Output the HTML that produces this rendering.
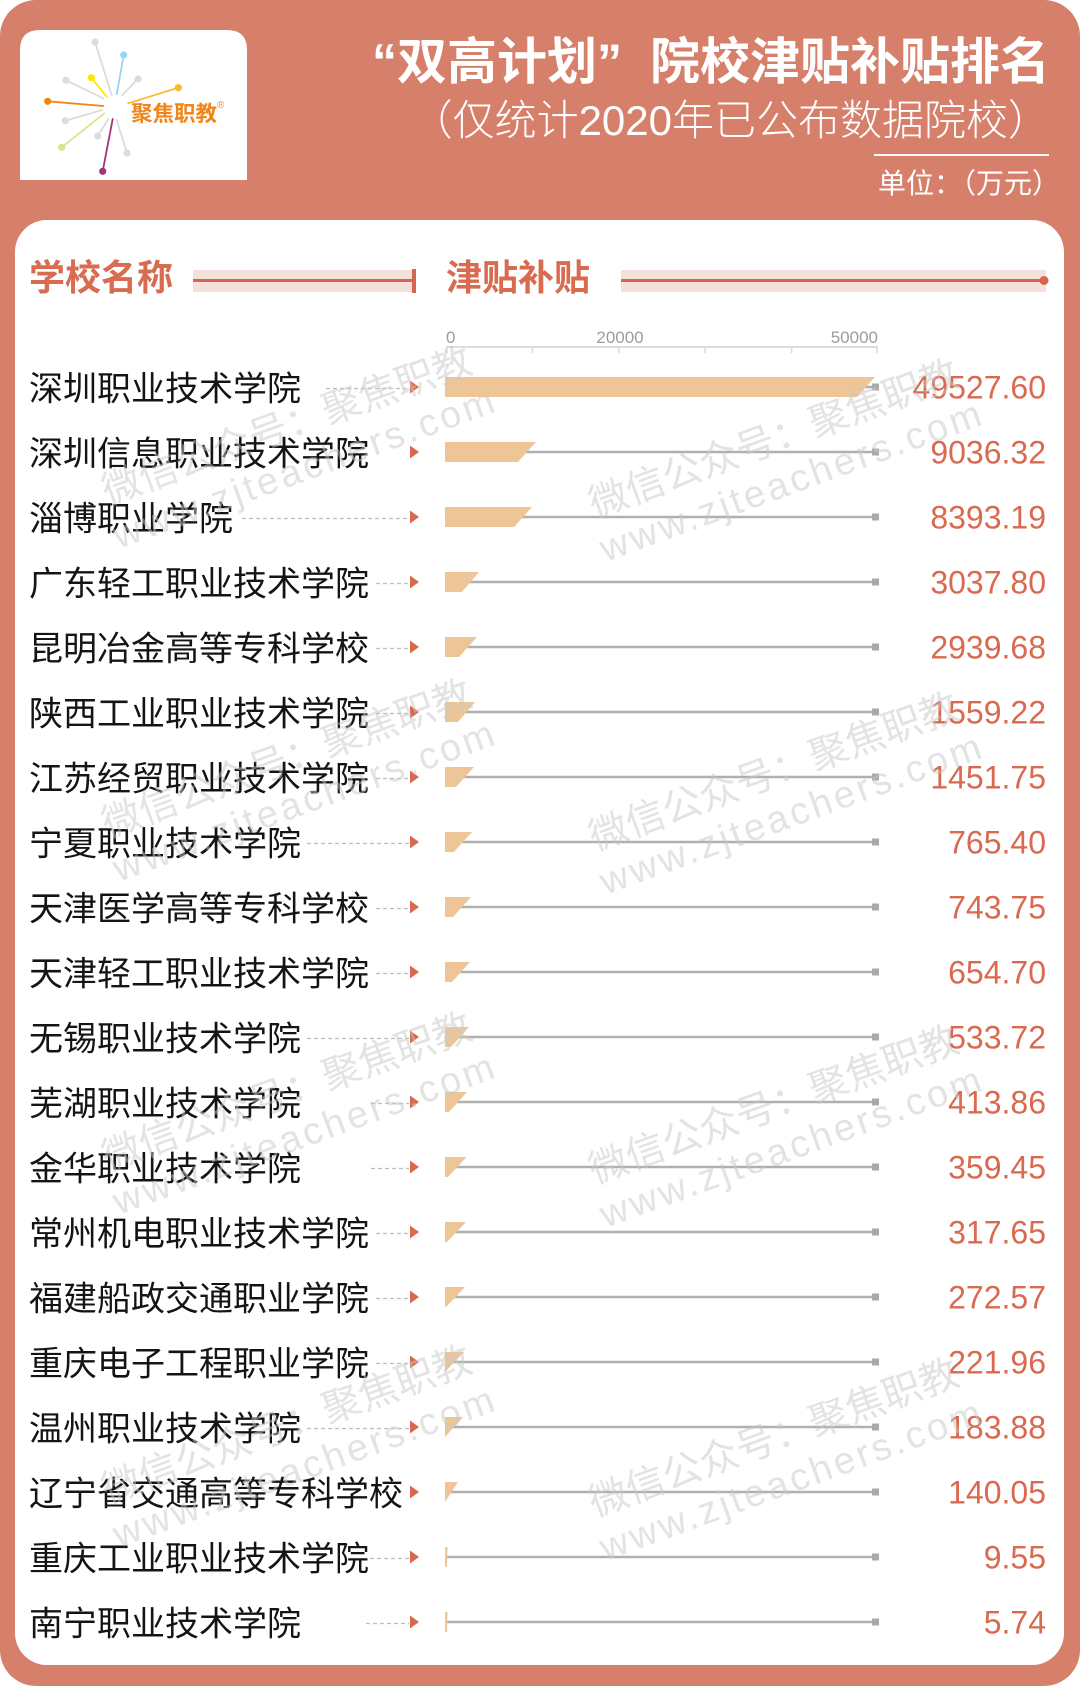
<!DOCTYPE html>
<html>
<head>
<meta charset="utf-8">
<style>
html,body{margin:0;padding:0;background:#fff;}
svg{display:block;}
.n{font-family:"Liberation Sans","Noto Sans CJK SC",sans-serif;font-size:34px;fill:#141414;}
.v{font-family:"Liberation Sans","Noto Sans CJK SC",sans-serif;font-size:32px;fill:#d9694f;text-anchor:end;}
.d{stroke:#bdbdbd;stroke-width:1.2;stroke-dasharray:4 3;}
.g{stroke:#b0b0b0;stroke-width:2.6;}
.b{fill:#eec597;}
.sq{fill:#a9a9a9;}
.t{fill:#d9694e;}
.wm text{fill:rgba(200,200,200,0.5);}
.wm1{font-family:"Liberation Sans","Noto Sans CJK SC",sans-serif;font-size:39px;}
.wm2{font-family:"Liberation Sans","Noto Sans CJK SC",sans-serif;font-size:38px;letter-spacing:3.3px;}
</style>
</head>
<body>
<svg width="1080" height="1686" viewBox="0 0 1080 1686" xmlns="http://www.w3.org/2000/svg">
<rect x="0" y="0" width="1080" height="1686" rx="36" fill="#d6806b"/>

<!-- logo -->
<path d="M20 180 V50 Q20 30 40 30 H227 Q247 30 247 50 V180 Z" fill="#fff"/>
<g stroke-width="1.8" stroke-linecap="round">
<line x1="95" y1="42" x2="111.7" y2="95" stroke="#dcdcdc"/>
<line x1="123.7" y1="55" x2="116.7" y2="94.3" stroke="#9ad6f4"/>
<line x1="138" y1="79" x2="122.3" y2="95" stroke="#dcdcdc"/>
<line x1="91.3" y1="77.7" x2="106.7" y2="96.7" stroke="#ffe800"/>
<line x1="66" y1="80.3" x2="103.3" y2="98.3" stroke="#dcdcdc"/>
<line x1="178.3" y1="87.7" x2="128.3" y2="103.3" stroke="#fbb829"/>
<line x1="47.7" y1="101.3" x2="103.3" y2="106" stroke="#f08519"/>
<line x1="65.3" y1="120.7" x2="102.3" y2="110" stroke="#dcdcdc"/>
<line x1="97.7" y1="136" x2="108.3" y2="119" stroke="#dcdcdc"/>
<line x1="61.7" y1="147.3" x2="104.3" y2="113.3" stroke="#dbe58e"/>
<line x1="127" y1="153" x2="116.7" y2="120" stroke="#dcdcdc"/>
<line x1="102.7" y1="171.3" x2="112.7" y2="119" stroke="#a33478"/>
</g>
<g>
<circle cx="95" cy="42" r="3.6" fill="#dcdcdc"/>
<circle cx="123.7" cy="55" r="3.6" fill="#9ad6f4"/>
<circle cx="138" cy="79" r="3.6" fill="#dcdcdc"/>
<circle cx="91.3" cy="77.7" r="3.6" fill="#ffe800"/>
<circle cx="66" cy="80.3" r="3.6" fill="#dcdcdc"/>
<circle cx="178.3" cy="87.7" r="3.6" fill="#fbb829"/>
<circle cx="47.7" cy="101.3" r="3.6" fill="#f08519"/>
<circle cx="65.3" cy="120.7" r="3.6" fill="#dcdcdc"/>
<circle cx="97.7" cy="136" r="3.6" fill="#dcdcdc"/>
<circle cx="61.7" cy="147.3" r="3.6" fill="#dbe58e"/>
<circle cx="127" cy="153" r="3.6" fill="#dcdcdc"/>
<circle cx="102.7" cy="171.3" r="3.6" fill="#a33478"/>
</g>
<text x="131" y="121" font-size="21.5" font-weight="700" fill="#f08519" style="font-family:'Liberation Sans','Noto Sans CJK SC',sans-serif">聚焦职教</text>
<text x="217" y="108" font-size="10" fill="#f08519" style="font-family:'Liberation Sans',sans-serif">®</text>

<!-- title -->
<text x="1050" y="79" text-anchor="end" font-size="50" font-weight="700" fill="#fff" style="font-family:'Liberation Sans','Noto Sans CJK SC',sans-serif">“双高计划”<tspan dx="28">院校津贴补贴排名</tspan></text>
<text x="1050" y="135" text-anchor="end" font-size="42" font-weight="300" fill="#fff" style="font-family:'Liberation Sans','Noto Sans CJK SC',sans-serif">（仅统计2020年已公布数据院校）</text>
<rect x="874" y="154" width="175" height="2" fill="#fff"/>
<text x="1060" y="193" text-anchor="end" font-size="28" fill="#fff" style="font-family:'Liberation Sans','Noto Sans CJK SC',sans-serif">单位：（万元）</text>

<!-- card -->
<rect x="15" y="220" width="1049" height="1445" rx="32" fill="#fff"/>

<!-- headers -->
<text x="29" y="290" font-size="36" font-weight="700" fill="#d96b51" style="font-family:'Liberation Sans','Noto Sans CJK SC',sans-serif">学校名称</text>
<rect x="193" y="270" width="223" height="22" fill="#f5e0db"/>
<rect x="193" y="279" width="222" height="3" fill="#d4674d"/>
<rect x="412" y="269" width="4" height="24" fill="#d4674d"/>
<text x="446" y="290" font-size="36" font-weight="700" fill="#d96b51" style="font-family:'Liberation Sans','Noto Sans CJK SC',sans-serif">津贴补贴</text>
<rect x="621" y="270" width="425" height="22" fill="#f5e0db"/>
<rect x="621" y="279" width="422" height="3" fill="#d4674d"/>
<circle cx="1044" cy="280.5" r="4.5" fill="#d4674d"/>

<!-- axis -->
<g style="font-family:'Liberation Sans',sans-serif" font-size="17" fill="#9c9c9c">
<text x="446" y="343">0</text>
<text x="620" y="343" text-anchor="middle">20000</text>
<text x="878" y="343" text-anchor="end">50000</text>
</g>
<rect x="446" y="346" width="432" height="2" fill="#dcdcdc"/>
<g fill="#dcdcdc">
<rect x="446" y="347" width="1.6" height="6"/>
<rect x="531.6" y="347" width="1.6" height="6"/>
<rect x="618" y="347" width="1.6" height="6"/>
<rect x="704.4" y="347" width="1.6" height="6"/>
<rect x="790.8" y="347" width="1.6" height="6"/>
<rect x="876.4" y="347" width="1.6" height="6"/>
</g>

<!-- rows -->
<g transform="translate(0,387)">
<line x1="326" x2="409" y1="1.5" y2="1.5" class="d"/>
<path d="M410 -6.5L419 0L410 6.5Z" class="t"/>
<line x1="445" x2="874" y1="0" y2="0" class="g"/>
<rect x="872" y="-3.5" width="7" height="7" class="sq"/>
<path d="M445 -10H875L857 10H445Z" class="b"/>
<text x="29" y="13.5" class="n">深圳职业技术学院</text>
<text x="1046" y="11.5" class="v">49527.60</text>
</g>
<g transform="translate(0,452)">
<path d="M410 -6.5L419 0L410 6.5Z" class="t"/>
<line x1="445" x2="874" y1="0" y2="0" class="g"/>
<rect x="872" y="-3.5" width="7" height="7" class="sq"/>
<path d="M445 -10H536L518 10H445Z" class="b"/>
<text x="29" y="13.5" class="n">深圳信息职业技术学院</text>
<text x="1046" y="11.5" class="v">9036.32</text>
</g>
<g transform="translate(0,517)">
<line x1="242" x2="409" y1="1.5" y2="1.5" class="d"/>
<path d="M410 -6.5L419 0L410 6.5Z" class="t"/>
<line x1="445" x2="874" y1="0" y2="0" class="g"/>
<rect x="872" y="-3.5" width="7" height="7" class="sq"/>
<path d="M445 -10H532L514 10H445Z" class="b"/>
<text x="29" y="13.5" class="n">淄博职业学院</text>
<text x="1046" y="11.5" class="v">8393.19</text>
</g>
<g transform="translate(0,582)">
<line x1="376" x2="409" y1="1.5" y2="1.5" class="d"/>
<path d="M410 -6.5L419 0L410 6.5Z" class="t"/>
<line x1="445" x2="874" y1="0" y2="0" class="g"/>
<rect x="872" y="-3.5" width="7" height="7" class="sq"/>
<path d="M445 -10H479L462 10H445Z" class="b"/>
<text x="29" y="13.5" class="n">广东轻工职业技术学院</text>
<text x="1046" y="11.5" class="v">3037.80</text>
</g>
<g transform="translate(0,647)">
<line x1="376" x2="409" y1="1.5" y2="1.5" class="d"/>
<path d="M410 -6.5L419 0L410 6.5Z" class="t"/>
<line x1="445" x2="874" y1="0" y2="0" class="g"/>
<rect x="872" y="-3.5" width="7" height="7" class="sq"/>
<path d="M445 -10H477L459 10H445Z" class="b"/>
<text x="29" y="13.5" class="n">昆明冶金高等专科学校</text>
<text x="1046" y="11.5" class="v">2939.68</text>
</g>
<g transform="translate(0,712)">
<line x1="376" x2="409" y1="1.5" y2="1.5" class="d"/>
<path d="M410 -6.5L419 0L410 6.5Z" class="t"/>
<line x1="445" x2="874" y1="0" y2="0" class="g"/>
<rect x="872" y="-3.5" width="7" height="7" class="sq"/>
<path d="M445 -10H475L458 10H445Z" class="b"/>
<text x="29" y="13.5" class="n">陕西工业职业技术学院</text>
<text x="1046" y="11.5" class="v">1559.22</text>
</g>
<g transform="translate(0,777)">
<line x1="376" x2="409" y1="1.5" y2="1.5" class="d"/>
<path d="M410 -6.5L419 0L410 6.5Z" class="t"/>
<line x1="445" x2="874" y1="0" y2="0" class="g"/>
<rect x="872" y="-3.5" width="7" height="7" class="sq"/>
<path d="M445 -10H474L456 10H445Z" class="b"/>
<text x="29" y="13.5" class="n">江苏经贸职业技术学院</text>
<text x="1046" y="11.5" class="v">1451.75</text>
</g>
<g transform="translate(0,842)">
<line x1="307" x2="409" y1="1.5" y2="1.5" class="d"/>
<path d="M410 -6.5L419 0L410 6.5Z" class="t"/>
<line x1="445" x2="874" y1="0" y2="0" class="g"/>
<rect x="872" y="-3.5" width="7" height="7" class="sq"/>
<path d="M445 -10H472L454 10H445Z" class="b"/>
<text x="29" y="13.5" class="n">宁夏职业技术学院</text>
<text x="1046" y="11.5" class="v">765.40</text>
</g>
<g transform="translate(0,907)">
<line x1="376" x2="409" y1="1.5" y2="1.5" class="d"/>
<path d="M410 -6.5L419 0L410 6.5Z" class="t"/>
<line x1="445" x2="874" y1="0" y2="0" class="g"/>
<rect x="872" y="-3.5" width="7" height="7" class="sq"/>
<path d="M445 -10H471L453 10H445Z" class="b"/>
<text x="29" y="13.5" class="n">天津医学高等专科学校</text>
<text x="1046" y="11.5" class="v">743.75</text>
</g>
<g transform="translate(0,972)">
<line x1="376" x2="409" y1="1.5" y2="1.5" class="d"/>
<path d="M410 -6.5L419 0L410 6.5Z" class="t"/>
<line x1="445" x2="874" y1="0" y2="0" class="g"/>
<rect x="872" y="-3.5" width="7" height="7" class="sq"/>
<path d="M445 -10H470L452 10H445Z" class="b"/>
<text x="29" y="13.5" class="n">天津轻工职业技术学院</text>
<text x="1046" y="11.5" class="v">654.70</text>
</g>
<g transform="translate(0,1037)">
<line x1="307" x2="409" y1="1.5" y2="1.5" class="d"/>
<path d="M410 -6.5L419 0L410 6.5Z" class="t"/>
<line x1="445" x2="874" y1="0" y2="0" class="g"/>
<rect x="872" y="-3.5" width="7" height="7" class="sq"/>
<path d="M445 -10H469L451 10H445Z" class="b"/>
<text x="29" y="13.5" class="n">无锡职业技术学院</text>
<text x="1046" y="11.5" class="v">533.72</text>
</g>
<g transform="translate(0,1102)">
<line x1="371" x2="409" y1="1.5" y2="1.5" class="d"/>
<path d="M410 -6.5L419 0L410 6.5Z" class="t"/>
<line x1="445" x2="874" y1="0" y2="0" class="g"/>
<rect x="872" y="-3.5" width="7" height="7" class="sq"/>
<path d="M445 -10H467L449 10H445Z" class="b"/>
<text x="29" y="13.5" class="n">芜湖职业技术学院</text>
<text x="1046" y="11.5" class="v">413.86</text>
</g>
<g transform="translate(0,1167)">
<line x1="371" x2="409" y1="1.5" y2="1.5" class="d"/>
<path d="M410 -6.5L419 0L410 6.5Z" class="t"/>
<line x1="445" x2="874" y1="0" y2="0" class="g"/>
<rect x="872" y="-3.5" width="7" height="7" class="sq"/>
<path d="M445 -10H466.5L448 10H445Z" class="b"/>
<text x="29" y="13.5" class="n">金华职业技术学院</text>
<text x="1046" y="11.5" class="v">359.45</text>
</g>
<g transform="translate(0,1232)">
<line x1="376" x2="409" y1="1.5" y2="1.5" class="d"/>
<path d="M410 -6.5L419 0L410 6.5Z" class="t"/>
<line x1="445" x2="874" y1="0" y2="0" class="g"/>
<rect x="872" y="-3.5" width="7" height="7" class="sq"/>
<path d="M445 -10H466L447 10H445Z" class="b"/>
<text x="29" y="13.5" class="n">常州机电职业技术学院</text>
<text x="1046" y="11.5" class="v">317.65</text>
</g>
<g transform="translate(0,1297)">
<line x1="376" x2="409" y1="1.5" y2="1.5" class="d"/>
<path d="M410 -6.5L419 0L410 6.5Z" class="t"/>
<line x1="445" x2="874" y1="0" y2="0" class="g"/>
<rect x="872" y="-3.5" width="7" height="7" class="sq"/>
<path d="M445 -10H465L446 10H445Z" class="b"/>
<text x="29" y="13.5" class="n">福建船政交通职业学院</text>
<text x="1046" y="11.5" class="v">272.57</text>
</g>
<g transform="translate(0,1362)">
<line x1="376" x2="409" y1="1.5" y2="1.5" class="d"/>
<path d="M410 -6.5L419 0L410 6.5Z" class="t"/>
<line x1="445" x2="874" y1="0" y2="0" class="g"/>
<rect x="872" y="-3.5" width="7" height="7" class="sq"/>
<path d="M445 -10H464L445 10Z" class="b"/>
<text x="29" y="13.5" class="n">重庆电子工程职业学院</text>
<text x="1046" y="11.5" class="v">221.96</text>
</g>
<g transform="translate(0,1427)">
<line x1="307" x2="409" y1="1.5" y2="1.5" class="d"/>
<path d="M410 -6.5L419 0L410 6.5Z" class="t"/>
<line x1="445" x2="874" y1="0" y2="0" class="g"/>
<rect x="872" y="-3.5" width="7" height="7" class="sq"/>
<path d="M445 -10H463L445 10Z" class="b"/>
<text x="29" y="13.5" class="n">温州职业技术学院</text>
<text x="1046" y="11.5" class="v">183.88</text>
</g>
<g transform="translate(0,1492)">
<path d="M410 -6.5L419 0L410 6.5Z" class="t"/>
<line x1="445" x2="874" y1="0" y2="0" class="g"/>
<rect x="872" y="-3.5" width="7" height="7" class="sq"/>
<path d="M445 -10H458L445 10Z" class="b"/>
<text x="29" y="13.5" class="n">辽宁省交通高等专科学校</text>
<text x="1046" y="11.5" class="v">140.05</text>
</g>
<g transform="translate(0,1557)">
<line x1="370" x2="409" y1="1.5" y2="1.5" class="d"/>
<path d="M410 -6.5L419 0L410 6.5Z" class="t"/>
<line x1="445" x2="874" y1="0" y2="0" class="g"/>
<rect x="872" y="-3.5" width="7" height="7" class="sq"/>
<path d="M445 -10H447.5L447 10H445Z" class="b"/>
<text x="29" y="13.5" class="n">重庆工业职业技术学院</text>
<text x="1046" y="11.5" class="v">9.55</text>
</g>
<g transform="translate(0,1622)">
<line x1="366" x2="409" y1="1.5" y2="1.5" class="d"/>
<path d="M410 -6.5L419 0L410 6.5Z" class="t"/>
<line x1="445" x2="874" y1="0" y2="0" class="g"/>
<rect x="872" y="-3.5" width="7" height="7" class="sq"/>
<path d="M445 -10H447.5L447 10H445Z" class="b"/>
<text x="29" y="13.5" class="n">南宁职业技术学院</text>
<text x="1046" y="11.5" class="v">5.74</text>
</g>

<!-- watermarks -->
<g class="wm">
<g transform="translate(108,505) rotate(-20)"><text class="wm1" x="0" y="0">微信公众号：聚焦职教</text><text class="wm2" x="-5" y="45">www.zjteachers.com</text></g>
<g transform="translate(595,518) rotate(-20)"><text class="wm1" x="0" y="0">微信公众号：聚焦职教</text><text class="wm2" x="-5" y="45">www.zjteachers.com</text></g>
<g transform="translate(108,838) rotate(-20)"><text class="wm1" x="0" y="0">微信公众号：聚焦职教</text><text class="wm2" x="-5" y="45">www.zjteachers.com</text></g>
<g transform="translate(595,851) rotate(-20)"><text class="wm1" x="0" y="0">微信公众号：聚焦职教</text><text class="wm2" x="-5" y="45">www.zjteachers.com</text></g>
<g transform="translate(108,1171) rotate(-20)"><text class="wm1" x="0" y="0">微信公众号：聚焦职教</text><text class="wm2" x="-5" y="45">www.zjteachers.com</text></g>
<g transform="translate(595,1184) rotate(-20)"><text class="wm1" x="0" y="0">微信公众号：聚焦职教</text><text class="wm2" x="-5" y="45">www.zjteachers.com</text></g>
<g transform="translate(108,1504) rotate(-20)"><text class="wm1" x="0" y="0">微信公众号：聚焦职教</text><text class="wm2" x="-5" y="45">www.zjteachers.com</text></g>
<g transform="translate(595,1517) rotate(-20)"><text class="wm1" x="0" y="0">微信公众号：聚焦职教</text><text class="wm2" x="-5" y="45">www.zjteachers.com</text></g>
</g>
</svg>
</body>
</html>
